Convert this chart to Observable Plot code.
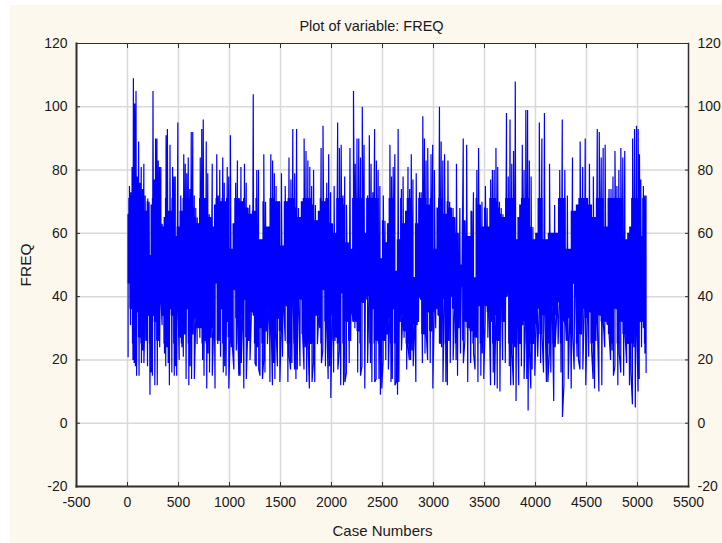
<!DOCTYPE html>
<html><head><meta charset="utf-8">
<style>html,body{margin:0;padding:0;background:#fff}svg{display:block}</style>
<script src="https://cdn.jsdelivr.net/npm/d3@7"></script>
<script src="https://cdn.jsdelivr.net/npm/@observablehq/plot@0.6"></script>
</head><body><script>
const xTicks=[-500,0,500,1000,1500,2000,2500,3000,3500,4000,4500,5000,5500];
const yTicks=[-20,0,20,40,60,80,100,120];
const blockEdges=[0,500,1000,1500,2000,2500,3000,3500,4000,4500,5000,5090];
const bandTop=71, bandMiddle=45, bandBottom=25;
const highs0=[66,75,73,81,109,101,105,78,89,76,81,74,82,72,67,71,70,53,69,105,77,90,90,83,81,81,63,62,65,91,93,67,88,67,81,78,78,59,95];
const highs1=[62,72,67,85,82,79,84,74,92,92,72,68,65,63,84,93,96,71,89,79,66,65,82,62,69,85,72,80,70,84,76,70,81,78];
const highs2=[91,55,63,76,83,71,81,70,82,76,68,69,66,104,67,80,80,58,58,85,70,62,62,85,83,79,75,70,70];
const highs3=[79,56,75,70,84,77,93,79,93,68,65,70,90,86,83,81,75,80,69,64,67,87,94,70,76,85,73];
const highs4=[63,75,60,95,87,88,72,78,69,57,87,55,105,82,90,90,84,100,88,60,72,91,82,73,93,83,80,75,52];
const highs5=[72,64,57,63,88,78,81,85,48,93,58,74,78,63,67,81,74,85,77,46,79,63,73,73,97,90,83,87,69,85,88];
const highs6=[80,55,68,100,89,83,85,66,83,70,68,68,65,82,60,68,50,90,64,88,59,59,67,73,45,80,87,69,70,62];
const highs7=[75,68,62,77,80,80,87,81,70,68,66,65,98,78,96,82,86,108,58,65,69,88,80,99,99,83,78,62,58];
const highs8=[60,95,90,98,58,82,60,69,60,80,96,80,72,55,84,67,69,89,81,90];
const highs9=[71,82,69,78,65,93,92,84,87,88,62,74,74,78,86,75,80,87,84,86,58,60,62,90,93,94];
const highs10=[93,85,77,59,75,72,72];
const lows0=[21,46,31,36,20,19,18,15,35,15,27,19,23,19,36,26,18,34,9,16,15,34,12,32,12,26,24,40,31,34,22,18,24,19,12,36,16,34,15,18,15,40];
const lows1=[20,27,24,21,28,14,36,12,18,14,28,14,33,25,30,27,30,20,15,26,11,22,16,27,15,30,11,46,25,26,21,36,16,18,15,32,11];
const lows2=[27,24,23,17,42,23,33,15,15,19,34,11,39,14,27,26,20,33,35,34,19,18,24,17,15,30,14,20,16,29,25,36,13,31,12,19,14,29,18,33,13];
const lows3=[29,21,37,26,37,13,21,17,19,38,17,14,17,39,18,39,28,17,24,13,26,11,25,13,19,13,34,25,34,30,19,23,42,18,32,14,18,8];
const lows4=[34,16,26,27,17,23,12,41,12,13,16,32,19,26,35,32,30,32,16,29,15,18,38,11,39,19,40,19,13,36,13,14,26,14,9,11];
const lows5=[20,26,20,28,17,33,13,14,36,12,13,9,13,32,23,34,27,29,17,24,20,20,23,18,31,13,31,32,40,39,19,28,22,28,20,35,19,29,11];
const lows6=[35,30,36,34,25,24,13,39,13,12,26,19,40,20,36,20,15,30,22,43,19,26,32,13,30,19,29,22,17,27,13,37,15,22,14];
const lows7=[32,37,27,35,12,32,16,12,34,11,26,10,46,20,32,19,40,41,18,12,22,12,24,7,37,12,25,18,31,14,32,14,4,23,11,17,25,15];
const lows8=[31,21,36,19,28,16,34,13,13,22,16,37,7,24,34,25,38,16,2,12,32,26,14,33,11,28,17,44,21,20,17,28,17,36,12];
const lows9=[33,21,35,23,14,11,26,31,10,34,12,32,24,32,31,28,20,23,15,18,36,12,22,16,32,15,28,19,25,12,16,6,24,5,29];
const lows10=[10,14,32,24,32,30,22,16];
const highBlocks=[highs0,highs1,highs2,highs3,highs4,highs5,highs6,highs7,highs8,highs9,highs10];
const lowBlocks=[lows0,lows1,lows2,lows3,lows4,lows5,lows6,lows7,lows8,lows9,lows10];

// case numbers follow the order of readings inside each 500-case block
const place=(blocks)=>blocks.flatMap((vals,b)=>{
  const a=blockEdges[b],w=blockEdges[b+1]-a;
  return vals.map((v,i)=>({c:a+w*(i+.5)/vals.length,v}));
});
const highPts=place(highBlocks), lowPts=place(lowBlocks);
const series=[...highPts,...lowPts].sort((p,q)=>p.c-q.c);
// the solid body of the trace reaches to the valley between neighbouring readings
const valleyHigh=(d,i,all)=>Math.min(d.v,(all[i+1]||d).v,bandTop);
const valleyLow=(d,i,all)=>Math.max(d.v,(all[i+1]||d).v,bandBottom);
const ink="#2f2f2f",grid="#d9d9d9",font="'Liberation Sans',Arial,sans-serif";
const plain=d=>String(d);
const chart=Plot.plot({
  width:722,height:543,marginLeft:76,marginRight:34,marginTop:43,marginBottom:57,
  style:{fontFamily:font,fontSize:"14px",color:"#1a1a1a",background:"linear-gradient(#fdf8ee,#fdf8ee) 10px 5px no-repeat"},
  x:{domain:[-500,5500]},y:{domain:[-20,120]},
  marks:[
    Plot.frame({fill:"#fff",stroke:"none"}),
    Plot.gridX(xTicks.slice(1,-1),{stroke:grid,strokeOpacity:1,strokeWidth:1.5}),
    Plot.gridY(yTicks.slice(1,-1),{stroke:grid,strokeOpacity:1,strokeWidth:1.5}),
    Plot.areaY(highPts,{x:"c",y1:bandMiddle-1,y2:(d,i)=>valleyHigh(d,i,highPts),fill:"#0000ff",curve:"step"}),
    Plot.areaY(lowPts,{x:"c",y1:(d,i)=>valleyLow(d,i,lowPts),y2:bandMiddle+1,fill:"#0000ff",curve:"step"}),
    Plot.line(series,{x:"c",y:"v",stroke:"#0000ff",strokeWidth:1.2,strokeLinejoin:"miter"}),
    Plot.frame({stroke:ink,strokeWidth:1}),
    Plot.frame({anchor:"left",stroke:ink,strokeWidth:2}),
    Plot.frame({anchor:"bottom",stroke:ink,strokeWidth:2}),
    Plot.frame({anchor:"right",stroke:ink,strokeWidth:1.5}),
    Plot.axisX(xTicks,{anchor:"bottom",tickSize:-4,tickPadding:15,tickFormat:plain,label:null,stroke:ink,fill:"#1a1a1a"}),
    Plot.axisX(xTicks,{anchor:"top",tickSize:-4,tickFormat:()=>"",label:null,stroke:ink}),
    Plot.axisY(yTicks,{anchor:"left",tickSize:-4,tickPadding:13,tickFormat:plain,label:null,stroke:ink,fill:"#1a1a1a"}),
    Plot.axisY(yTicks,{anchor:"right",tickSize:-4,tickPadding:13,tickFormat:plain,label:null,stroke:ink,fill:"#1a1a1a"}),
    Plot.text(["Plot of variable: FREQ"],{frameAnchor:"top",dx:-11,dy:-17,fontSize:14.5,fill:"#1a1a1a",lineAnchor:"middle"}),
    Plot.text(["Case Numbers"],{frameAnchor:"bottom",dy:45,fontSize:15,fill:"#1a1a1a",lineAnchor:"middle"}),
    Plot.text(["FREQ"],{frameAnchor:"left",textAnchor:"middle",dx:-50,rotate:-90,fontSize:15.5,fill:"#1a1a1a"})
  ]
});
document.body.append(chart);
</script></body></html>
